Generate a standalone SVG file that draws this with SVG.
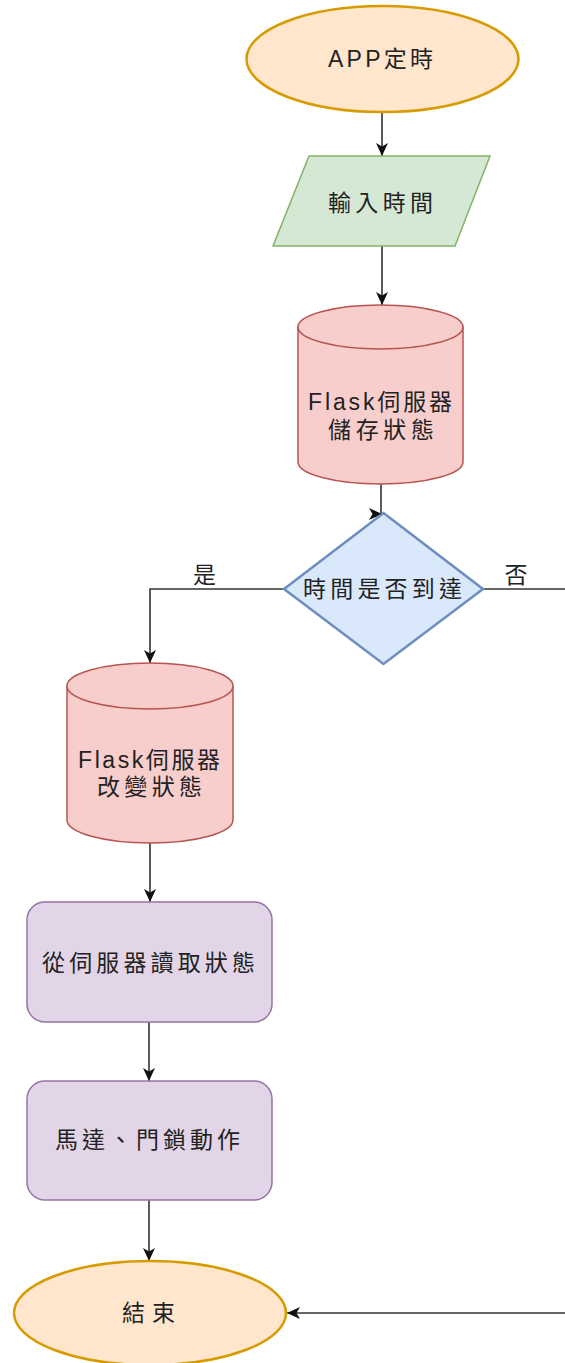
<svg xmlns="http://www.w3.org/2000/svg" width="565" height="1363" viewBox="0 0 565 1363">
  <defs>
    <marker id="arrow" markerUnits="userSpaceOnUse" markerWidth="14" markerHeight="13" refX="13" refY="6.5" orient="auto">
      <path d="M0,0.5 L13,6.5 L0,12.5 L3.5,6.5 Z" fill="#111"/>
    </marker>
    <style>
      text { font-family: "Liberation Sans", "Noto Sans CJK TC", sans-serif; font-size: 23px; fill: #222; dominant-baseline: central; }
      .terminal { fill: #ffe6cc; stroke: #d79b00; stroke-width: 2.5; }
      .io { fill: #d5e8d4; stroke: #82b366; stroke-width: 1.5; }
      .db { fill: #f8cecc; stroke: #b85450; stroke-width: 1.5; }
      .decision { fill: #dae8fc; stroke: #6c8ebf; stroke-width: 2.5; }
      .process { fill: #e1d5e7; stroke: #9673a6; stroke-width: 1.5; }
      .edge { fill: none; stroke: #333; stroke-width: 1.6; }
      .arrowed { marker-end: url(#arrow); }
    </style>
  </defs>

  <!-- connectors -->
  <g id="connectors">
    <path class="edge arrowed" d="M382,112 L382,156"/>
    <path class="edge arrowed" d="M382,246 L382,305"/>
    <path class="edge arrowed" d="M381,484 L381,514 L382,514"/>
    <path class="edge arrowed" d="M284,589 L150,589 L150,663"/>
    <path class="edge" d="M483,589 L565,589"/>
    <path class="edge arrowed" d="M150,843 L150,902"/>
    <path class="edge arrowed" d="M149,1022 L149,1081"/>
    <path class="edge arrowed" d="M149,1200 L149,1261"/>
    <path class="edge arrowed" d="M565,1313 L287,1313"/>
    <text x="204.5" y="575" text-anchor="middle">是</text>
    <text x="516" y="575" text-anchor="middle">否</text>
  </g>

  <g id="start">
    <ellipse class="terminal" cx="382.5" cy="59" rx="136" ry="53"/>
    <text x="328" y="59" textLength="105" lengthAdjust="spacing">APP定時</text>
  </g>

  <g id="input-time">
    <polygon class="io" points="309,156 490,156 455,246 273,246"/>
    <text x="328" y="203" textLength="105" lengthAdjust="spacing">輸入時間</text>
  </g>

  <g id="store-state">
    <path class="db" d="M298,327 A82.5,22 0 0 1 463,327 L463,462 A82.5,22 0 0 1 298,462 Z"/>
    <path class="db" fill="none" d="M298,327 A82.5,22 0 0 0 463,327"/>
    <text x="308" y="402" textLength="144" lengthAdjust="spacing">Flask伺服器</text>
    <text x="328" y="430" textLength="106" lengthAdjust="spacing">儲存狀態</text>
  </g>

  <g id="time-check">
    <polygon class="decision" points="383.5,513 483,589 383.5,664 284,589"/>
    <text x="303" y="589" textLength="159" lengthAdjust="spacing">時間是否到達</text>
  </g>

  <g id="change-state">
    <path class="db" d="M67,686 A83,23 0 0 1 233,686 L233,820 A83,23 0 0 1 67,820 Z"/>
    <path class="db" fill="none" d="M67,686 A83,23 0 0 0 233,686"/>
    <text x="78" y="760" textLength="142" lengthAdjust="spacing">Flask伺服器</text>
    <text x="97" y="787" textLength="105" lengthAdjust="spacing">改變狀態</text>
  </g>

  <g id="read-state">
    <rect class="process" x="27" y="902" width="245" height="120" rx="18" ry="18"/>
    <text x="42" y="963" textLength="213" lengthAdjust="spacing">從伺服器讀取狀態</text>
  </g>

  <g id="actuate">
    <rect class="process" x="27" y="1081" width="245" height="119" rx="18" ry="18"/>
    <text x="55" y="1140" textLength="185" lengthAdjust="spacing">馬達、門鎖動作</text>
  </g>

  <g id="end">
    <ellipse class="terminal" cx="150" cy="1313" rx="136" ry="52"/>
    <text x="122" y="1313" textLength="53" lengthAdjust="spacing">結束</text>
  </g>
</svg>
